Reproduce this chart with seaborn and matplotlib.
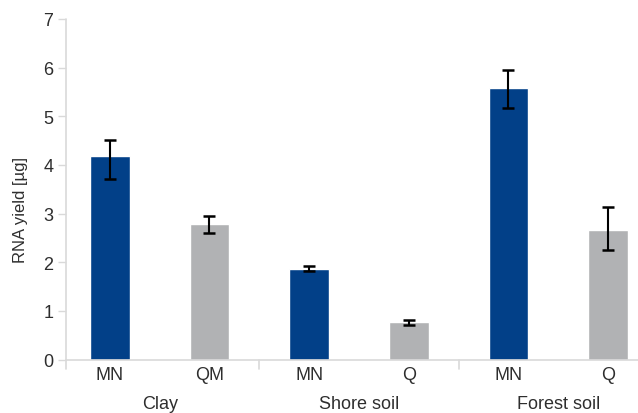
import matplotlib
matplotlib.use("Agg")
import matplotlib.pyplot as plt
import matplotlib.transforms as mtransforms
import seaborn as sns
import pandas as pd

# RNA yield per extraction method and soil type
soils = ["Clay", "Clay", "Shore soil", "Shore soil", "Forest soil", "Forest soil"]
methods = ["MN", "QM", "MN", "Q", "MN", "Q"]
kits = ["MN", "Other", "MN", "Other", "MN", "Other"]
yields = [4.19, 2.78, 1.87, 0.77, 5.58, 2.66]
err_low = [0.48, 0.17, 0.06, 0.06, 0.40, 0.40]
err_high = [0.32, 0.17, 0.05, 0.04, 0.38, 0.47]
group_names = ["Clay", "Shore soil", "Forest soil"]

BLUE = "#024088"
GREY = "#B1B2B4"
AXIS = "#D9D9D9"
TEXT = "#2E2E2E"

sns.set_theme(style="white")
plt.rcParams["font.family"] = ["Liberation Sans", "DejaVu Sans"]

df = pd.DataFrame({
    "key": [f"{s} {m}" for s, m in zip(soils, methods)],
    "yield": yields,
    "kit": kits,
})

fig = plt.figure(figsize=(6.38, 4.14), dpi=100)
ax = fig.add_axes([66 / 638, 1 - 360.5 / 414, 1 - 66 / 638, (360.5 - 20) / 414])

sns.barplot(data=df, x="key", y="yield", hue="kit",
            palette={"MN": BLUE, "Other": GREY}, dodge=False,
            width=0.4, saturation=1, legend=False, ax=ax)

pos = list(range(len(yields)))
ax.errorbar(pos, yields, yerr=[err_low, err_high], fmt="none", ecolor="black",
            elinewidth=1.5, capsize=4, capthick=1.8, zorder=5)

ax.set_xlim(-0.44, 5.3)
ax.set_ylim(0, 7)
ax.set_yticks(range(0, 8))
ax.set_xticks(pos)
ax.set_xticklabels(methods)
ax.set_xlabel("")
ax.set_ylabel("RNA yield [µg]", fontsize=12, color=TEXT)
ax.yaxis.set_label_coords(-0.067, 0.442)

for side in ["top", "right", "left"]:
    ax.spines[side].set_visible(False)
ax.spines["bottom"].set_color(AXIS)
ax.spines["bottom"].set_linewidth(1.2)

ax.tick_params(axis="y", which="major", left=True, length=5.5, width=1.0,
               color=AXIS, labelsize=13, labelcolor=TEXT, pad=3.5)
ax.tick_params(axis="x", which="major", bottom=False, length=0,
               labelsize=13, labelcolor=TEXT, pad=5)

# vertical axis line, running a little below zero
ax.plot([0, 0], [-0.028, 1], transform=ax.transAxes, color=AXIS,
        lw=1.2, clip_on=False, zorder=1)

# separators between soil groups
trans = mtransforms.blended_transform_factory(ax.transData, ax.transAxes)
for xsep in [1.5, 3.5]:
    ax.plot([xsep, xsep], [0, -0.028], transform=trans, color=AXIS,
            lw=1.2, clip_on=False)

# group labels below the method labels
for i, name in enumerate(group_names):
    ax.text(2 * i + 0.5, -0.13, name, transform=trans, ha="center",
            va="center", fontsize=13, color=TEXT)

fig.savefig("out.png", dpi=100)
